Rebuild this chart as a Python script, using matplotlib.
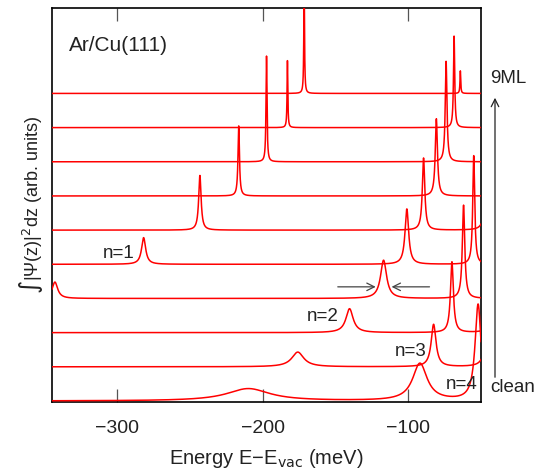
import numpy as np
import matplotlib
matplotlib.use('Agg')
import matplotlib.pyplot as plt

plt.rcParams['font.family'] = ['Liberation Sans', 'DejaVu Sans']
plt.rcParams['font.size'] = 13.5

# peak positions (meV), heights and half widths for each coverage, clean -> 9ML
peak_energy = [
    [-210, -92, -52],
    [-176, -82.6, -45],
    [-140.4, -70, -42],
    [-343, -117, -62],
    [-282, -101, -55],
    [-243.3, -89.5, -46],
    [-216.6, -80.7],
    [-197.5, -74],
    [-183.1, -68.5],
    [-171.6, -64.2],
]
peak_height = [
    [0.36, 1.09, 2.81],
    [0.43, 1.24, 2.5],
    [0.70, 2.07, 3.0],
    [0.48, 1.12, 2.73],
    [0.78, 1.62, 3.18],
    [1.6, 2.11, 3.0],
    [2.05, 2.26],
    [3.1, 2.94],
    [1.96, 2.68],
    [3.2, 0.66],
]
peak_width = [
    [18, 6, 2.5],
    [5, 2, 1.5],
    [3, 1.2, 1.0],
    [2.3, 2.5, 1.0],
    [1.7, 1.5, 0.8],
    [1.0, 1.0, 1.0],
    [0.6, 0.9],
    [0.4, 0.7],
    [0.3, 0.5],
    [0.3, 0.3],
]
xticks = [-300, -200, -100]

txt = '#222222'
fig = plt.figure(figsize=(5.44, 4.70), dpi=100)
ax = fig.add_axes([52/544, 1 - 402/470, (481-52)/544, (402-8)/470])

E = np.linspace(-345, -50, 8000)
for i in range(len(peak_energy)):
    y = np.full_like(E, float(i))
    for e0, h, g in zip(peak_energy[i], peak_height[i], peak_width[i]):
        y += h / (1 + ((E - e0) / g) ** 2)
    ax.plot(E, y, color='red', lw=1.1, zorder=3)

ax.set_xlim(-345, -50)
ax.set_ylim(-0.03, 11.5)
ax.set_yticks([])
ax.set_xticks(xticks)
ax.tick_params(axis='x', direction='in', length=9.5, width=0.9, color='#555555',
               top=True, pad=13, labelcolor=txt, labelsize=14)
for s in ax.spines.values():
    s.set_linewidth(1.2)

ax.set_xlabel('Energy E\u2212E$_{\\mathrm{vac}}$ (meV)', color=txt, labelpad=7, fontsize=14.5)
ax.set_ylabel('\u222b|\u03a8(z)|$^2$dz (arb. units)', color=txt, labelpad=5, fontsize=13)

ax.text(-333.5, 10.39, 'Ar/Cu(111)', color=txt, va='center', ha='left', fontsize=15)
ax.text(-299, 4.32, 'n=1', color=txt, va='center', ha='center')
ax.text(-158.5, 2.48, 'n=2', color=txt, va='center', ha='center')
ax.text(-98.6, 1.45, 'n=3', color=txt, va='center', ha='center')
ax.text(-63.5, 0.49, 'n=4', color=txt, va='center', ha='center')
ax.text(-43.5, 9.43, '9ML', color=txt, va='center', ha='left', clip_on=False)
ax.text(-43.5, 0.40, 'clean', color=txt, va='center', ha='left', clip_on=False)

# width markers on the n=2 peak
ax.annotate('', xy=(-120.5, 3.34), xytext=(-150.4, 3.34),
            arrowprops=dict(arrowstyle='->', lw=0.9, color='#444444'))
ax.annotate('', xy=(-113.4, 3.34), xytext=(-83.5, 3.34),
            arrowprops=dict(arrowstyle='->', lw=0.9, color='#444444'))

# coverage arrow on the right
ax.annotate('', xy=(495, 375), xytext=(495, 90), xycoords='figure pixels',
            textcoords='figure pixels',
            arrowprops=dict(arrowstyle='->', lw=0.9, color='#222222'))

fig.savefig('out.png', dpi=100)
